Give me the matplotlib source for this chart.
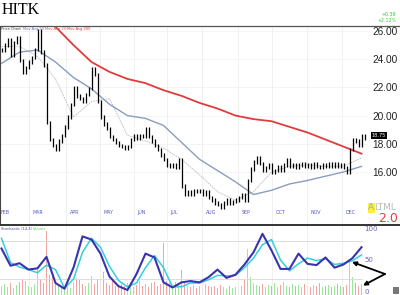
import numpy as np
import matplotlib
matplotlib.use("Agg")
import matplotlib.pyplot as plt
from matplotlib.lines import Line2D

# closes, one bar every ~2 trading days (Feb .. mid Dec)
closes = [
    24.65, 25.0, 25.4, 24.3, 25.2, 25.5, 23.9, 23.1, 23.4, 23.8,
    24.1, 24.7, 26.0, 24.5, 23.6, 19.5, 18.3, 17.9, 17.6, 18.2,
    18.6, 19.2, 19.9, 20.8, 22.0, 21.4, 21.2, 21.0, 21.5, 21.9,
    23.3, 22.9, 21.0, 19.9, 19.4, 19.1, 18.5, 18.3, 18.1, 17.9,
    17.8, 17.7, 17.8, 18.3, 18.6, 18.4, 18.6, 18.5, 19.1, 18.5,
    18.2, 17.9, 17.6, 17.2, 16.9, 16.5, 16.4, 16.5, 16.3, 16.9,
    15.0, 14.4, 14.6, 14.4, 14.7, 14.6, 14.7, 14.4, 14.6, 14.2,
    14.0, 13.8, 13.7, 13.5, 13.8, 14.0, 13.8, 13.9, 14.0, 14.2,
    14.4, 14.0, 15.4, 16.2, 16.7, 17.0, 16.6, 16.1, 16.3, 16.5,
    16.0, 16.1, 16.4, 16.1, 16.5, 16.9, 16.4, 16.5, 16.3, 16.5,
    16.6, 16.4, 16.5, 16.3, 16.6, 16.4, 16.3, 16.5, 16.4, 16.6,
    16.4, 16.6, 16.4, 16.5, 16.3, 16.0, 17.6, 18.3, 18.2, 17.9,
    18.6, 18.4,
]
volume = [
    90, 110, 80, 120, 70, 100, 130, 150, 140, 90,
    80, 110, 270, 160, 120, 650, 200, 180, 140, 110,
    90, 80, 100, 70, 130, 170, 150, 110, 90, 120,
    190, 110, 160, 140, 230, 120, 100, 150, 90, 80,
    110, 90, 120, 130, 80, 100, 140, 90, 110, 80,
    120, 130, 90, 110, 530, 140, 120, 100, 130, 110,
    250, 140, 90, 80, 100, 70, 90, 80, 110, 90,
    80, 90, 70, 100, 80, 60, 90, 70, 80, 100,
    90, 150, 470, 180, 120, 100, 90, 110, 80, 100,
    90, 120, 80, 100, 130, 90, 80, 110, 90, 100,
    80, 110, 90, 80, 100, 90, 120, 80, 90, 100,
    80, 90, 110, 90, 80, 100, 330, 180, 120, 90,
    110, 140,
]
# moving averages, read every 6 bars
ma_idx = list(range(0, 121, 6))
ma20 = [24.9, 24.9, 24.2, 22.6, 19.9, 21.0, 21.2, 18.6, 18.2, 17.7, 16.9,
        15.8, 14.6, 14.0, 14.6, 16.0, 16.4, 16.5, 16.4, 16.4, 17.0]
ma50 = [23.7, 24.5, 24.65, 23.8, 22.7, 21.9, 20.8, 20.0, 19.8, 19.3, 18.1,
        16.9, 16.1, 15.3, 14.4, 14.7, 15.15, 15.4, 15.7, 16.0, 16.4]
ma200 = [28.5, 27.8, 27.0, 26.3, 25.0, 23.8, 23.1, 22.6, 22.3, 21.8, 21.4,
         20.9, 20.5, 20.0, 19.75, 19.6, 19.2, 18.8, 18.3, 17.8, 17.3]
# stochastic, read every 3 bars
st_idx = list(range(0, 121, 3))
stoch_k = [68, 41, 45, 35, 37, 55, 14, 5, 38, 87, 82, 60, 24, 9, 3, 28, 60, 54,
           15, 7, 15, 17, 15, 23, 35, 22, 27, 43, 62, 91, 65, 36, 36, 60, 44,
           42, 54, 38, 43, 53, 70]
stoch_d = [84, 46, 39, 35, 30, 42, 35, 6, 20, 62, 84, 70, 40, 18, 8, 14, 38, 57,
           38, 8, 8, 14, 14, 19, 26, 25, 26, 38, 53, 74, 82, 50, 33, 44, 53,
           49, 52, 43, 45, 49, 58]
months = ["FEB", "MAR", "APR", "MAY", "JUN", "JUL", "AUG", "SEP", "OCT", "NOV", "DEC"]
month_start = [-1.5, 9.2, 21.5, 32.8, 44.2, 55.2, 66.8, 78.8, 90.2, 101.8, 113.5]
price_ticks = [16, 18, 20, 22, 24, 26]

W, H = 400, 295
fig = plt.figure(figsize=(4, 2.95), dpi=100)


def fx(px):
    return px / W


def fy(py):
    return 1 - py / H


ax = fig.add_axes([0, fy(224), fx(368), fy(26) - fy(224)])
ax2 = fig.add_axes([0, 0, fx(363), fy(225)])
ax3 = ax2.twinx()
ax2.set_zorder(ax3.get_zorder() + 1)
ax2.patch.set_visible(False)

c = np.array(closes)
idx = np.arange(len(c))
prev = np.r_[c[0], c[:-1]]
lo = np.minimum(prev, c) - 0.12
hi = np.maximum(prev, c) + 0.12

# main price panel
ax.set_xlim(-0.5, -0.5 + 368 / 3)
ax.set_ylim(12.31, 26.355)
for m in month_start:
    ax.axvline(m, color="#eeeeee", lw=0.6, zorder=0)
    ax2.axvline(m, color="#eeeeee", lw=0.6, zorder=0)
for p in price_ticks:
    ax.axhline(p, color="#f2f2f2", lw=0.6, zorder=0)
ax.plot(ma_idx, ma20, color="#bbbbbb", lw=0.6, ls=(0, (2, 1)), zorder=2)
ax.plot(ma_idx, ma50, color="#8a9cc0", lw=1.0, zorder=2)
ax.plot(ma_idx, ma200, color="#e03c3c", lw=1.3, zorder=2)
ax.vlines(idx, lo, hi, color="black", lw=0.9, zorder=3)

ax.yaxis.tick_right()
ax.set_yticks(price_ticks)
ax.set_yticklabels([f"{p:.2f}" for p in price_ticks], family="Liberation Sans")
ax.tick_params(axis="y", length=0, pad=3, labelsize=7.3, labelcolor="#222222")
ax.set_xticks([])
for s in ["top", "right", "bottom"]:
    ax.spines[s].set_visible(False)
ax.spines["left"].set_color("#444444")
ax.spines["left"].set_linewidth(0.8)

for m, name in zip(month_start, months):
    ax.text(m + 1.2, 0.06, name, transform=ax.get_xaxis_transform(),
            fontsize=3.4, color="#5555cc", va="center", ha="left")

legend = [("Price Chart", "#333333", 1), ("Mov Avg 50", "#6677bb", 23),
          ("Mov Avg 20", "#dd5555", 45), ("Mov Avg 200", "#dd3333", 67)]
for txt, col, px in legend:
    fig.text(fx(px), fy(29), txt, fontsize=2.6, color=col, va="center")

# price box and change
fig.text(fx(372), fy(135.5), "18.75", fontsize=3.6, color="white", va="center",
         bbox=dict(boxstyle="square,pad=0.15", fc="black", ec="none"))
fig.text(fx(396), fy(15), "+0.39", fontsize=3.4, color="#33cc33", ha="right", va="center")
fig.text(fx(397), fy(21), "+2.12%", fontsize=3.4, color="#33cc33", ha="right", va="center")

# title and watermark
fig.text(fx(2), fy(10), "HITK", family="Liberation Serif", fontsize=11.5,
         color="black", va="center")
fig.text(fx(368), fy(208), "A", fontsize=6.5, color="#aaaaaa", va="center",
         bbox=dict(boxstyle="square,pad=0.05", fc="#f5f04a", ec="none"))
fig.text(fx(374), fy(208), "LTML", fontsize=6.5, color="#bbbbbb", va="center")
fig.text(fx(398), fy(218), "2.0", fontsize=9, color="#e04040", va="center", ha="right")

# lower panel: volume + stochastic
ax2.set_xlim(-0.5, -0.5 + 363 / 3)
ax3.set_xlim(-0.5, -0.5 + 363 / 3)
ax2.set_ylim(-4.8, 104.8)
ax3.set_ylim(0, 710)
vcol = np.where(c >= prev, "#9be89b", "#f4a3a3")
ax3.bar(idx, volume, width=0.5, color=vcol, linewidth=0)
ax3.set_yticks([])
ax2.axhline(20, color="#dddddd", lw=0.7, zorder=0)
ax2.axhline(80, color="#dddddd", lw=0.7, zorder=0)
ax2.plot(st_idx, stoch_d, color="#33d0d8", lw=1.1)
ax2.plot(st_idx, stoch_k, color="#3a33b0", lw=1.5)
ax2.set_xticks([])
ax2.yaxis.tick_right()
ax2.set_yticks([0, 50, 100])
ax2.tick_params(axis="y", length=0, pad=1, labelsize=5, labelcolor="#6666cc")
for a in (ax2, ax3):
    for s in a.spines.values():
        s.set_visible(False)
fig.text(fx(1), fy(229.5), "Stochastic (14,3)", fontsize=2.6, color="#4444aa", va="center")
fig.text(fx(33), fy(229.5), "Volume", fontsize=2.6, color="#55cc55", va="center")

# arrows
for tip in [(116.8, 47), (120.5, 10)]:
    ax2.annotate("", xy=tip, xycoords="data", xytext=(385, 21),
                 textcoords="figure pixels", annotation_clip=False,
                 arrowprops=dict(arrowstyle="-|>", color="black", lw=1.3,
                                 mutation_scale=6, shrinkA=0, shrinkB=0))
fig.add_artist(plt.Rectangle((fx(393), fy(294)), fx(6), 7 / H, fc="#777777",
                             ec="none", transform=fig.transFigure))

# panel border lines
fig.add_artist(Line2D([0, 1], [fy(26), fy(26)], color="#555555", lw=0.9))
fig.add_artist(Line2D([0, 1], [fy(224.5), fy(224.5)], color="#333333", lw=1.4))

fig.savefig("out.png", dpi=100)
